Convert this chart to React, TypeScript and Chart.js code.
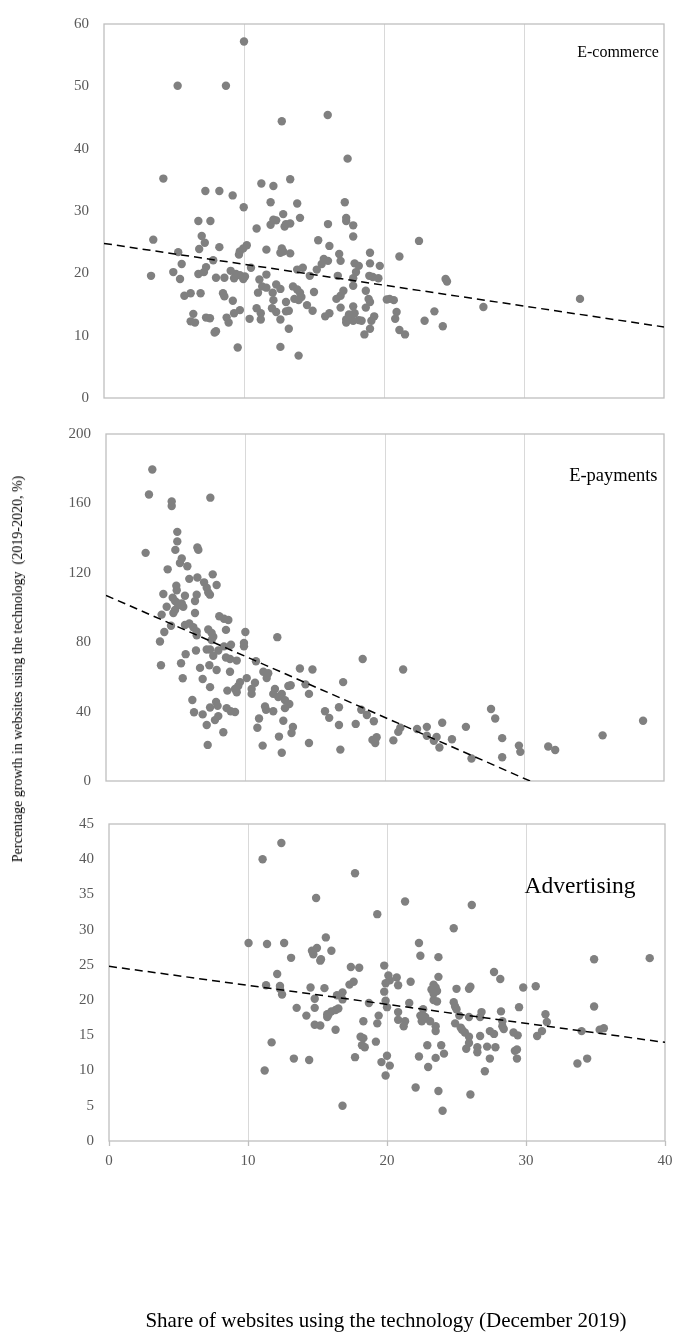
import React, { useEffect, useRef } from "react";
import { Chart, registerables } from "chart.js";

Chart.register(...registerables);

const FONT = '"Liberation Serif", "Times New Roman", serif';

// ---------- shared axis ----------
const shareTicks = [0, 10, 20, 30, 40];

// ---------- E-commerce ----------
const ecomTicks = [0, 10, 20, 30, 40, 50, 60];
const ecomShare = [
  10.0, 5.26, 8.71, 12.7, 15.98, 17.4, 4.24, 7.24, 8.24, 9.19, 11.24, 12.1, 13.3, 9.98, 11.9, 13.8, 17.2,
  6.74, 7.6, 12.8, 12.1, 12.3, 11.9, 14.0, 13.0, 13.3, 12.9, 10.9, 16.0, 17.3, 17.3,
  3.52, 6.98, 7.2, 6.8, 8.24, 9.7, 9.95, 10.2, 9.64, 11.6, 12.7, 12.8, 12.6, 13.3, 15.3, 16.1,
  5.3, 5.55, 4.95, 3.36, 5.43, 7.8, 7.29, 7.14, 6.74,
  8.0, 8.6, 9.05, 9.43, 9.29, 9.71, 10.07, 9.95, 10.5, 11.6, 11.1,
  13.8, 14.2, 14.7, 15.2, 15.55, 15.7, 16.0, 16.8, 16.9, 16.7, 17.1,
  5.74, 6.19, 6.9, 8.5, 8.6, 9.2, 11.0, 11.3, 11.6, 12.05, 12.3, 12.6,
  12.1, 13.0, 13.5, 13.8, 14.0, 13.6, 13.9, 14.1, 15.0, 16.9, 16.6, 16.9,
  6.38, 6.19, 6.5, 7.29, 7.57, 8.0, 7.9, 8.76, 8.9, 9.29, 9.71, 10.4,
  10.9, 11.2, 11.2, 12.0, 12.3, 12.6, 13.0, 13.2, 13.2, 14.5, 14.9, 15.8, 16.1, 17.3, 17.3,
  9.55, 12.6, 13.9,
  17.8, 17.8, 19.0, 19.0, 19.7, 17.9, 18.2, 18.0, 17.8, 17.8, 18.95, 19.2, 19.6, 21.1, 22.5,
  18.7, 18.9, 19.0, 18.7, 20.2, 20.7, 20.4, 17.8, 17.9, 17.5, 18.2, 18.4, 17.8, 19.3, 19.1,
  19.0, 18.6, 20.9, 20.8, 21.1, 21.5, 22.9, 23.6, 24.2, 24.4, 24.5, 27.1, 34.0,
];
const ecomGrowth = [
  57.2, 50.1, 50.1, 44.4, 45.4, 38.4, 35.2, 33.2, 33.2, 32.5, 34.4, 34.0, 35.1, 30.6, 31.4, 31.2, 31.4,
  28.4, 28.4, 29.5, 28.6, 28.5, 27.8, 28.9, 27.9, 28.0, 27.5, 27.2, 27.9, 28.9, 28.4,
  25.4, 26.0, 24.9, 23.9, 24.2, 23.5, 24.0, 24.5, 23.0, 23.8, 24.0, 23.5, 23.3, 23.2, 25.3, 24.4,
  23.4, 21.5, 20.2, 19.6, 19.1, 22.1, 21.0, 20.2, 19.9,
  19.3, 19.3, 20.4, 19.9, 19.2, 19.7, 19.5, 19.1, 20.9, 19.8, 19.0,
  20.6, 20.9, 19.6, 20.6, 21.5, 22.3, 22.0, 23.1, 22.0, 19.6, 17.2,
  16.4, 16.8, 16.8, 16.8, 16.3, 15.6, 16.9, 17.9, 17.7, 16.9, 18.2, 17.5,
  15.7, 15.4, 17.9, 17.4, 16.9, 15.9, 15.7, 16.2, 17.0, 16.4, 15.9, 14.5,
  13.5, 12.3, 12.1, 12.9, 12.8, 10.7, 10.5, 12.9, 12.1, 13.6, 14.1, 12.7,
  14.4, 13.6, 12.6, 14.4, 13.8, 12.6, 13.9, 14.0, 11.1, 14.9, 14.0, 13.1, 13.6, 12.6, 12.1,
  8.1, 8.2, 6.8,
  27.7, 25.9, 23.3, 21.6, 21.2, 21.6, 21.2, 20.2, 19.2, 18.0, 19.6, 19.4, 19.2, 22.7, 25.2,
  17.2, 15.9, 15.4, 14.5, 15.8, 15.7, 15.9, 14.7, 13.6, 13.4, 12.5, 12.4, 12.4, 13.1, 12.4,
  11.1, 10.2, 13.8, 12.7, 10.9, 10.2, 12.4, 13.9, 11.5, 19.1, 18.7, 14.6, 15.9,
];
const ecomTrendShare = [0, 40];
const ecomTrendGrowth = [24.8, 11.4];

// ---------- E-payments ----------
const payTicks = [0, 40, 80, 120, 160, 200];
const payShare = [
  3.32, 3.08, 4.71, 4.71, 7.48, 5.11, 5.11, 2.84, 4.97, 6.55, 6.62, 5.43, 5.3, 5.83, 4.42, 7.65, 5.97, 6.55, 7.03, 7.93, 7.22, 5.04,
  5.07, 7.33, 7.45, 4.11, 4.35, 4.78, 4.95, 5.11, 5.3, 4.95, 4.83, 5.66, 5.54, 6.5, 6.38, 6.38, 5.43,
  3.99, 4.18, 3.87, 3.94, 4.66, 5.66, 5.97, 6.26, 6.5, 6.5, 8.12, 8.46, 8.77, 8.6, 9.99, 7.33, 7.57, 7.69, 7.57,
  5.71, 6.45, 7.22, 7.46, 7.69, 8.05, 8.46, 8.96, 8.6, 8.89, 9.37, 9.89, 9.89, 5.38, 6.74, 7.41, 7.93, 5.5, 6.93, 8.89,
  7.46, 8.7, 9.25, 9.48, 9.61, 10.09, 9.37, 10.44, 10.68, 10.44, 10.75, 11.28, 11.63, 11.52, 12.28, 12.11, 11.99, 12.35, 12.6, 12.83, 13.07,
  6.19, 6.31, 6.93, 7.46, 7.89, 8.0, 7.22, 7.81, 8.05, 8.65, 8.94, 9.25, 8.41, 7.29, 11.4, 11.47, 11.99, 10.97, 10.85, 11.23, 12.4, 12.6, 12.83, 12.71,
  18.4, 21.3, 13.9, 14.8, 13.24, 13.14, 14.3, 14.55, 17.0, 15.7, 16.0, 16.7, 16.7, 17.9, 18.3, 18.7, 19.2, 19.1, 19.4, 19.3,
  14.55, 16.8, 13.4, 13.3, 20.6, 20.95, 21.1, 22.3, 23.0, 23.0, 23.7, 23.5, 23.9, 24.1, 24.8, 25.8, 26.2, 27.6, 27.9, 28.4,
  28.4, 29.6, 29.7, 31.7, 32.2, 35.6, 38.5,
];
const payGrowth = [
  179.5, 165.1, 161.1, 158.5, 163.3, 143.6, 138.1, 131.5, 133.2, 134.6, 133.2, 128.2, 125.6, 123.8, 122.0, 119.1, 116.5, 117.3, 114.5, 113.0, 111.4, 112.6,
  109.9, 108.7, 107.4, 107.8, 100.4, 105.6, 103.7, 102.6, 101.4, 98.6, 96.8, 106.8, 100.4, 107.4, 103.7, 96.8, 102.3,
  95.9, 85.9, 80.4, 66.7, 89.5, 89.9, 90.8, 88.6, 86.2, 84.0, 95.0, 93.5, 92.8, 87.1, 85.9, 87.3, 85.3, 83.1, 81.3,
  73.1, 75.2, 75.8, 75.8, 72.2, 75.2, 77.6, 78.5, 71.2, 70.3, 69.4, 79.5, 77.6, 67.9, 65.2, 66.7, 64.0, 59.2, 58.8, 63.0,
  54.1, 52.1, 53.0, 54.8, 57.0, 59.3, 51.1, 53.0, 56.6, 50.2, 69.0, 63.0, 62.1, 59.3, 82.9, 53.0, 50.2, 48.4, 50.2, 46.6, 54.8,
  46.7, 39.6, 38.4, 42.4, 45.6, 43.3, 32.3, 35.1, 37.4, 42.0, 40.2, 39.8, 28.1, 20.8, 42.9, 41.1, 40.2, 36.0, 30.7, 20.4, 25.6, 16.3, 42.0, 34.7,
  70.3, 64.3, 64.8, 64.3, 55.2, 44.4, 55.7, 50.2, 57.0, 40.2, 36.4, 42.5, 32.3, 32.9, 41.1, 38.0, 34.4, 23.7, 25.2, 21.9,
  21.9, 18.1, 31.1, 27.7, 23.4, 28.3, 30.7, 30.0, 31.2, 26.1, 25.4, 23.2, 19.3, 33.6, 24.1, 31.2, 13.0, 41.5, 36.0, 24.7,
  13.7, 20.4, 16.8, 19.9, 17.9, 26.3, 34.7,
];
const payTrendShare = [0, 30.4];
const payTrendGrowth = [107, 0];

// ---------- Advertising ----------
const advTicks = [0, 5, 10, 15, 20, 25, 30, 35, 40, 45];
const advShare = [
  12.4, 11.05, 17.7, 14.9, 19.3, 21.3, 15.6, 26.1, 24.8,
  10.04, 11.37, 12.6, 14.6, 14.96, 14.7, 15.25, 15.2, 16.0, 13.1, 12.1, 11.3, 12.3, 12.45, 12.3,
  14.5, 15.5, 14.8, 13.5, 14.8, 14.2, 14.8, 15.2, 16.3, 15.7, 15.8, 16.0, 16.3, 16.5, 15.7,
  11.7, 17.4, 18.0, 19.8, 17.3, 17.6, 16.4, 16.8, 16.8, 18.7, 20.1, 20.7, 20.2, 19.9, 20.8,
  21.7, 19.8, 19.9, 20.0, 21.6, 20.8, 20.8, 21.3, 21.2, 19.4, 19.3, 18.3, 18.1, 18.3, 18.2,
  18.4, 19.2, 17.7, 20.0, 13.3, 14.4, 22.3, 22.4, 22.3,
  23.7, 27.7, 28.15, 34.9, 38.9, 29.8, 30.7, 34.9, 31.4, 31.5, 31.15, 30.8, 34.0, 35.3, 35.6,
  34.4, 23.7, 23.35, 23.5, 23.2, 23.6, 23.35, 25.0, 25.9, 26.0, 22.6, 22.4, 22.75, 22.5, 23.1,
  22.75, 23.35, 23.6, 24.8, 24.9, 25.0, 25.2, 25.9, 26.8, 26.7, 28.2, 29.5, 23.5, 23.5, 24.9,
  25.3, 25.4, 25.6, 25.9, 28.3, 28.3, 28.4, 27.4, 27.7, 26.7, 29.1, 29.4, 25.9, 25.7, 26.5,
  26.5, 27.2, 27.8, 29.2, 29.35, 23.9, 22.9, 24.1, 23.5, 29.35, 27.4,
  11.2, 16.8, 19.6, 19.9, 20.2, 22.06, 22.96, 23.7, 24.0, 26.0, 27.04, 33.7,
];
const advGrowth = [
  42.3, 40.0, 38.0, 34.5, 32.2, 34.0, 28.9, 33.5, 30.2,
  28.1, 27.96, 28.1, 27.0, 27.4, 26.5, 25.8, 25.6, 27.0, 26.0, 23.7, 22.1, 22.0, 20.8, 21.6,
  21.8, 21.7, 20.2, 18.9, 18.9, 17.8, 16.5, 16.4, 15.8, 17.6, 18.0, 18.4, 18.6, 18.8, 18.0,
  14.0, 24.7, 24.6, 24.9, 22.2, 22.6, 20.7, 21.1, 20.1, 19.6, 23.5, 23.2, 22.8, 22.4, 22.1,
  22.6, 21.2, 19.9, 19.0, 19.6, 18.3, 17.2, 17.0, 16.3, 17.8, 16.7, 17.0, 14.8, 14.6, 13.6,
  13.3, 14.1, 11.9, 12.1, 11.7, 11.5, 28.1, 26.3, 12.0,
  26.1, 24.0, 23.0, 25.8, 25.96, 21.8, 21.96, 19.1, 18.0, 16.9, 15.6, 14.9, 15.6, 15.8, 16.0,
  11.7, 23.3, 22.2, 21.8, 21.5, 21.3, 20.9, 21.6, 21.6, 21.9, 18.7, 17.8, 17.6, 17.0, 17.0,
  17.4, 20.0, 19.8, 19.7, 19.1, 18.7, 17.8, 17.6, 18.3, 17.6, 18.4, 19.0, 16.3, 15.6, 16.7,
  16.1, 15.8, 15.4, 14.8, 17.0, 16.3, 15.9, 15.6, 15.2, 14.9, 15.4, 15.0, 13.9, 13.1, 13.3,
  12.6, 13.4, 13.3, 12.8, 13.0, 13.6, 13.6, 12.4, 11.8, 11.7, 11.7,
  10.0, 5.0, 11.2, 9.3, 10.7, 7.6, 10.5, 7.1, 4.3, 6.6, 9.9, 11.0,
];
const advTrendShare = [0, 40];
const advTrendGrowth = [24.8, 14.0];

const panelLabels = ["E-commerce", "E-payments", "Advertising"];

// ---------- plugins ----------
const framePlugin = {
  id: "frame",
  beforeDatasetsDraw(chart: any) {
    const { ctx, chartArea: a } = chart;
    ctx.save();
    ctx.strokeStyle = "#bfbfbf";
    ctx.lineWidth = 1.3;
    ctx.strokeRect(a.left, a.top, a.right - a.left, a.bottom - a.top);
    ctx.restore();
  },
};

const labelPlugin = {
  id: "panelLabel",
  afterDraw(chart: any, _args: any, opts: any) {
    if (!opts || !opts.text) return;
    const { ctx, scales } = chart;
    ctx.save();
    ctx.font = `${opts.size}px ${FONT}`;
    ctx.fillStyle = "#000";
    ctx.textAlign = "left";
    ctx.textBaseline = "middle";
    ctx.fillText(opts.text, scales.x.getPixelForValue(opts.x), scales.y.getPixelForValue(opts.y));
    ctx.restore();
  },
};

type PanelCfg = {
  top: number;
  height: number;
  yWidth: number;
  padTop: number;
  padRight: number;
  padBottom: number;
  xHeight: number;
  showX: boolean;
  yMax: number;
  yTicks: number[];
  xs: number[];
  ys: number[];
  tx: number[];
  ty: number[];
  label: string;
  labelX: number;
  labelY: number;
  labelSize: number;
};

function Panel({ cfg }: { cfg: PanelCfg }) {
  const ref = useRef<HTMLCanvasElement | null>(null);
  useEffect(() => {
    if (!ref.current) return;
    const chart = new Chart(ref.current, {
      type: "scatter",
      data: {
        datasets: [
          {
            type: "line",
            data: cfg.tx.map((x, i) => ({ x, y: cfg.ty[i] })),
            borderColor: "#000",
            borderWidth: 1.5,
            borderDash: [8, 5],
            pointRadius: 0,
            fill: false,
            order: 0,
          } as any,
          {
            type: "scatter",
            data: cfg.xs.map((x, i) => ({ x, y: cfg.ys[i] })),
            backgroundColor: "#808080",
            borderColor: "#808080",
            borderWidth: 0,
            pointRadius: 4.2,
            order: 1,
          },
        ],
      },
      options: {
        responsive: false,
        animation: false,
        events: [],
        layout: {
          padding: { top: cfg.padTop, right: cfg.padRight, bottom: cfg.padBottom, left: 0 },
        },
        plugins: {
          legend: { display: false },
          tooltip: { enabled: false },
          panelLabel: { text: cfg.label, x: cfg.labelX, y: cfg.labelY, size: cfg.labelSize },
        } as any,
        scales: {
          x: {
            type: "linear",
            min: 0,
            max: 40,
            afterBuildTicks: (s: any) => {
              s.ticks = shareTicks.map((v) => ({ value: v }));
            },
            afterFit: (s: any) => {
              s.height = cfg.xHeight;
            },
            grid: {
              color: (c: any) =>
                c.tick && (c.tick.value === 0 || c.tick.value === 40) ? "rgba(0,0,0,0)" : "#d9d9d9",
              lineWidth: 1,
              drawTicks: cfg.showX,
              tickLength: 5,
              tickColor: "#bfbfbf",
              tickWidth: 1.3,
            },
            border: { display: false },
            ticks: {
              display: cfg.showX,
              font: { family: FONT, size: 15 },
              color: "#595959",
              padding: 6,
              maxRotation: 0,
            },
          },
          y: {
            type: "linear",
            min: 0,
            max: cfg.yMax,
            afterBuildTicks: (s: any) => {
              s.ticks = cfg.yTicks.map((v) => ({ value: v }));
            },
            afterFit: (s: any) => {
              s.width = cfg.yWidth;
            },
            grid: { display: false, drawTicks: false },
            border: { display: false },
            ticks: {
              font: { family: FONT, size: 15 },
              color: "#595959",
              padding: 15,
            },
          },
        },
      } as any,
      plugins: [framePlugin, labelPlugin],
    });
    return () => chart.destroy();
  }, []);
  return (
    <canvas
      ref={ref}
      width={680}
      height={cfg.height}
      style={{ position: "absolute", left: 0, top: cfg.top, width: 680, height: cfg.height }}
    />
  );
}

const panels: PanelCfg[] = [
  {
    top: 0, height: 422, yWidth: 104, padTop: 9, padRight: 16, padBottom: 8, xHeight: 0, showX: false,
    yMax: 60, yTicks: ecomTicks, xs: ecomShare, ys: ecomGrowth, tx: ecomTrendShare, ty: ecomTrendGrowth,
    label: panelLabels[0], labelX: 33.8, labelY: 55.4, labelSize: 16,
  },
  {
    top: 410, height: 395, yWidth: 106, padTop: 10, padRight: 16, padBottom: 10, xHeight: 0, showX: false,
    yMax: 200, yTicks: payTicks, xs: payShare, ys: payGrowth, tx: payTrendShare, ty: payTrendGrowth,
    label: panelLabels[1], labelX: 33.2, labelY: 175.5, labelSize: 18.5,
  },
  {
    top: 800, height: 544, yWidth: 109, padTop: 12, padRight: 15, padBottom: 173, xHeight: 30, showX: true,
    yMax: 45, yTicks: advTicks, xs: advShare, ys: advGrowth, tx: advTrendShare, ty: advTrendGrowth,
    label: panelLabels[2], labelX: 29.9, labelY: 36.1, labelSize: 23.5,
  },
];

export default function App() {
  return (
    <div style={{ position: "absolute", left: 0, top: 0, width: 680, height: 1344, background: "#fff", fontFamily: FONT }}>
      {panels.map((p, i) => (
        <Panel key={i} cfg={p} />
      ))}
      <div
        style={{
          position: "absolute",
          left: 18,
          top: 669,
          transform: "translate(-50%, -50%) rotate(-90deg)",
          whiteSpace: "pre",
          fontSize: 14,
          color: "#000",
        }}
      >
        {"Percentage growth in websites using the technology  (2019-2020, %)"}
      </div>
      <div
        style={{
          position: "absolute",
          left: 386,
          top: 1320,
          transform: "translate(-50%, -50%)",
          whiteSpace: "pre",
          fontSize: 21,
          color: "#000",
        }}
      >
        {"Share of websites using the technology (December 2019)"}
      </div>
    </div>
  );
}
